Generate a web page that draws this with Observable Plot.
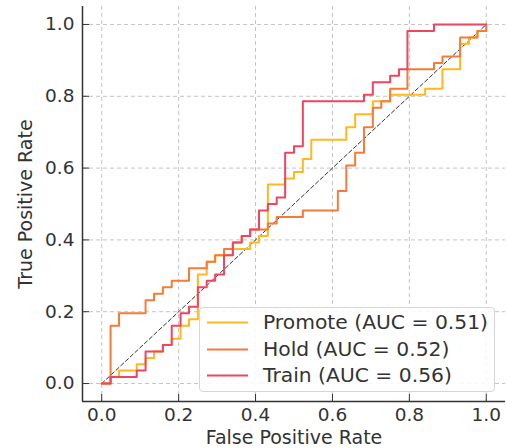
<!DOCTYPE html>
<html><head><meta charset="utf-8">
<script src="https://cdn.jsdelivr.net/npm/d3@7"></script>
<script src="https://cdn.jsdelivr.net/npm/@observablehq/plot@0.6"></script>
<style>
body{margin:0;background:#fff;}
#wrap{position:relative;width:506px;height:448px;font-family:"DejaVu Sans",sans-serif;color:#333;}
#legend{position:absolute;left:199px;top:307px;width:294px;height:83px;border:1px solid #d6d6d6;border-radius:4px;background:rgba(255,255,255,0.85);}
.row{position:absolute;left:0;width:292px;height:24px;}
.row svg{position:absolute;left:6px;top:0;}
.row span{position:absolute;left:63px;top:0;line-height:24px;font-size:20.3px;white-space:nowrap;}
</style></head>
<body><div id="wrap"><div id="chart"></div><div id="legend"></div></div>
<script>
const seriesNames = ["Promote", "Hold", "Train"];
const aucLabels = ["0.51", "0.52", "0.56"];
const seriesColors = ["#FFB81F", "#F47B3A", "#EE4563"];

const promoteFpr = [0,.023,.045,.091,.114,.136,.159,.182,.205,.227,.25,.273,.295,.341,.386,.409,.432,.477,.5,.523,.545,.636,.659,.705,.75,.841,.886,.932,.955,.977,1];
const promoteTpr = [0,.018,.036,.054,.071,.089,.107,.125,.161,.179,.304,.339,.357,.375,.393,.411,.554,.571,.589,.625,.679,.714,.75,.786,.804,.821,.875,.946,.964,.982,1];

const holdFpr = [0,.023,.045,.114,.136,.159,.182,.227,.273,.295,.318,.341,.364,.386,.432,.455,.523,.614,.636,.659,.682,.705,.727,.75,.795,.864,.886,.932,.977,1];
const holdTpr = [0,.161,.196,.232,.25,.268,.286,.321,.339,.357,.375,.393,.411,.429,.446,.464,.482,.536,.607,.643,.714,.768,.786,.821,.875,.893,.911,.964,.982,1];

const trainFpr = [0,.023,.091,.114,.159,.182,.205,.227,.25,.273,.295,.318,.341,.364,.386,.409,.432,.455,.477,.5,.523,.682,.705,.75,.773,.795,.864,1];
const trainTpr = [0,.018,.036,.089,.107,.161,.196,.214,.268,.286,.304,.357,.393,.411,.429,.482,.5,.518,.643,.661,.786,.804,.839,.857,.875,.982,1,1];

const chanceLine = [0, 1];
const xTicks = [0, 0.2, 0.4, 0.6, 0.8, 1.0];
const yTicks = [0, 0.2, 0.4, 0.6, 0.8, 1.0];
const xDomain = [-0.05, 1.05];
const yDomain = [-0.05, 1.05];
const xLabel = "False Positive Rate";
const yLabel = "True Positive Rate";

const fprs = [promoteFpr, holdFpr, trainFpr];
const tprs = [promoteTpr, holdTpr, trainTpr];
const curves = seriesNames.map((name, s) => fprs[s].map((f, i) => ({series: name, fpr: f, tpr: tprs[s][i]})));
const diag = chanceLine.map(v => ({x: v, y: v}));

const chart = Plot.plot({
  width: 506, height: 448,
  marginLeft: 82, marginRight: 1, marginTop: 6, marginBottom: 47,
  style: {fontFamily: "DejaVu Sans", fontSize: "19px", color: "#333", background: "white"},
  x: {domain: xDomain},
  y: {domain: yDomain},
  marks: [
    Plot.gridX(xTicks, {stroke: "#c4c4c4", strokeOpacity: 1, strokeDasharray: "4,3"}),
    Plot.gridY(yTicks, {stroke: "#c4c4c4", strokeOpacity: 1, strokeDasharray: "4,3"}),
    Plot.line(diag, {x: "x", y: "y", stroke: "#333", strokeWidth: 1, strokeDasharray: "4,2.5"}),
    ...curves.map((c, s) => Plot.line(c, {x: "fpr", y: "tpr", curve: "step-after", stroke: seriesColors[s], strokeWidth: 2})),
    Plot.ruleX([xDomain[0]], {stroke: "#333", strokeWidth: 1.5}),
    Plot.ruleY([yDomain[0]], {stroke: "#333", strokeWidth: 1.5}),
    Plot.axisX(xTicks, {tickSize: -7, tickPadding: 13, tickFormat: d => d.toFixed(1), label: null, stroke: "#333", fontSize: 18.5}),
    Plot.axisY(yTicks, {tickSize: -7, tickPadding: 15, tickFormat: d => d.toFixed(1), label: null, stroke: "#333", fontSize: 18.5}),
    Plot.text([xLabel], {text: d => d, frameAnchor: "bottom", lineAnchor: "middle", textAnchor: "middle", dy: 36, fontSize: 19, fill: "#333"}),
    Plot.text([yLabel], {text: d => d, frameAnchor: "left", lineAnchor: "middle", textAnchor: "middle", dx: -57, rotate: -90, fontSize: 19, fill: "#333"})
  ]
});
document.getElementById("chart").appendChild(chart);

const legend = document.getElementById("legend");
const rowTops = [2, 28.5, 55];
seriesNames.forEach((name, s) => {
  const row = document.createElement("div");
  row.className = "row";
  row.style.top = rowTops[s] + "px";
  row.innerHTML = `<svg width="44" height="24"><line x1="1" x2="42" y1="12.5" y2="12.5" stroke="${seriesColors[s]}" stroke-width="2"/></svg><span>${name} (AUC = ${aucLabels[s]})</span>`;
  legend.appendChild(row);
});
</script></body></html>
